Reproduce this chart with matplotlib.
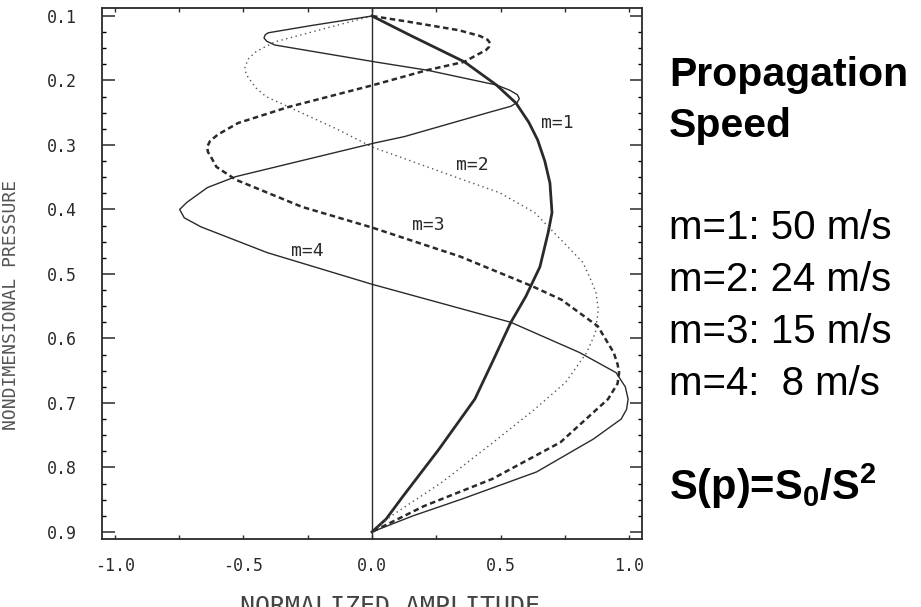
import numpy as np
import matplotlib.pyplot as plt
from matplotlib.ticker import MultipleLocator

# vertical structure of the modes (p, amplitude)
p1 = [0.100, 0.130, 0.171, 0.207, 0.235, 0.265, 0.292, 0.325, 0.359, 0.405, 0.436,
      0.489, 0.535, 0.575, 0.635, 0.694, 0.772, 0.845, 0.880, 0.900]
a1 = [0.000, 0.149, 0.359, 0.484, 0.560, 0.610, 0.644, 0.672, 0.692, 0.700, 0.685,
      0.653, 0.598, 0.540, 0.470, 0.400, 0.260, 0.120, 0.055, 0.000]

p2 = [0.100, 0.120, 0.140, 0.155, 0.166, 0.179, 0.190, 0.199, 0.212, 0.225, 0.241,
      0.276, 0.303, 0.354, 0.374, 0.405, 0.447, 0.482, 0.510, 0.529, 0.555, 0.591,
      0.622, 0.668, 0.710, 0.761, 0.823, 0.876, 0.900]
a2 = [0.000, -0.189, -0.377, -0.450, -0.480, -0.494, -0.490, -0.475, -0.450, -0.412, -0.324,
      -0.133, 0.000, 0.354, 0.496, 0.633, 0.735, 0.820, 0.852, 0.871, 0.880, 0.869,
      0.835, 0.753, 0.632, 0.472, 0.272, 0.072, 0.000]

p3 = [0.100, 0.109, 0.122, 0.131, 0.137, 0.142, 0.148, 0.153, 0.162, 0.171, 0.184,
      0.207, 0.241, 0.266, 0.284, 0.294, 0.303, 0.311, 0.318, 0.334, 0.354, 0.396,
      0.428, 0.473, 0.519, 0.540, 0.581, 0.622, 0.640, 0.653, 0.670, 0.694, 0.761,
      0.818, 0.860, 0.900]
a3 = [0.000, 0.143, 0.337, 0.420, 0.450, 0.459, 0.455, 0.443, 0.400, 0.360, 0.214,
      0.006, -0.324, -0.521, -0.600, -0.630, -0.641, -0.638, -0.627, -0.605, -0.529, -0.272,
      0.000, 0.343, 0.623, 0.737, 0.878, 0.940, 0.955, 0.961, 0.955, 0.918, 0.733,
      0.467, 0.202, 0.000]

p4 = [0.100, 0.115, 0.126, 0.129, 0.134, 0.139, 0.145, 0.171, 0.184, 0.207, 0.215,
      0.222, 0.228, 0.234, 0.240, 0.250, 0.287, 0.297, 0.349, 0.366, 0.389, 0.400,
      0.413, 0.427, 0.467, 0.516, 0.575, 0.622, 0.653, 0.675, 0.694, 0.710, 0.725,
      0.756, 0.807, 0.849, 0.875, 0.900]
a4 = [0.000, -0.239, -0.403, -0.415, -0.420, -0.410, -0.378, 0.009, 0.214, 0.484, 0.535,
      0.565, 0.573, 0.565, 0.540, 0.450, 0.126, 0.009, -0.529, -0.640, -0.720, -0.748,
      -0.730, -0.665, -0.407, 0.000, 0.540, 0.808, 0.949, 0.985, 0.996, 0.990, 0.969,
      0.861, 0.640, 0.350, 0.160, 0.000]

mode_labels = ["m=1", "m=2", "m=3", "m=4"]
label_x = [0.72, 0.39, 0.22, -0.25]
label_p = [0.266, 0.331, 0.424, 0.465]

speeds = ["m=1: 50 m/s", "m=2: 24 m/s", "m=3: 15 m/s", "m=4:  8 m/s"]

# bold sans for the sub/superscripts of the formula
plt.rcParams['mathtext.fontset'] = 'custom'
plt.rcParams['mathtext.rm'] = 'Liberation Sans:bold'
plt.rcParams['mathtext.it'] = 'Liberation Sans:bold'
plt.rcParams['mathtext.bf'] = 'Liberation Sans:bold'

ink = '#2a2a2a'
mono = 'DejaVu Sans Mono'

fig = plt.figure(figsize=(9.21, 6.07), dpi=100)
ax = fig.add_axes([102/921, 1 - 539/607, 540/921, 531/607])

ax.plot(a1, p1, color=ink, lw=2.0)                          # m=1 thick solid
ax.plot(a2, p2, color='#555555', lw=1.0, ls=(0, (1, 2.5)))  # m=2 thin dotted
ax.plot(a3, p3, color=ink, lw=1.8, ls=(0, (2.2, 1.4)))      # m=3 thick dashed
ax.plot(a4, p4, color=ink, lw=1.0)                          # m=4 thin solid
ax.axvline(0, color=ink, lw=1.0)

for t, x, p in zip(mode_labels, label_x, label_p):
    ax.text(x, p, t, family=mono, fontsize=13, color=ink, ha='center', va='center')

ax.set_xlim(-1.05, 1.05)
ax.set_ylim(0.911, 0.0876)
ax.xaxis.set_minor_locator(MultipleLocator(0.25))
ax.yaxis.set_minor_locator(MultipleLocator(0.025))
ax.set_xticks([-1.0, -0.5, 0.0, 0.5, 1.0], ["-1.0", "-0.5", "0.0", "0.5", "1.0"])
ax.set_yticks([0.1, 0.2, 0.3, 0.4, 0.5, 0.6, 0.7, 0.8, 0.9],
              ["0.1", "0.2", "0.3", "0.4", "0.5", "0.6", "0.7", "0.8", "0.9"])
ax.tick_params(axis='y', which='major', direction='in', length=9, width=1.1,
               left=True, right=True, pad=18, labelsize=12, colors=ink)
ax.tick_params(axis='y', which='minor', direction='in', length=3, width=1.0,
               left=True, right=True)
ax.tick_params(axis='x', which='both', direction='in', length=3, width=1.0,
               bottom=True, top=True, pad=13, labelsize=12, colors=ink)
for lab in ax.get_xticklabels() + ax.get_yticklabels():
    lab.set_family(mono)
for s in ax.spines.values():
    s.set_linewidth(1.3)
    s.set_color(ink)

fig.text(11/921, 1 - 305/607, "NONDIMENSIONAL PRESSURE", rotation=90, family=mono,
         fontsize=13, color='#555555', ha='center', va='center')
fig.text(390/921, 1 - 595/607, "NORMALIZED AMPLITUDE", family=mono,
         fontsize=18, color='#444444', ha='center', va='top')

# slide text on the right, one line every ~52 px
tx = 669/921
fig.text(tx, 1 - 86/607, "Propagation", family='Liberation Sans',
         weight='bold', fontsize=29.5, va='baseline')
fig.text(tx, 1 - 137/607, "Speed", family='Liberation Sans',
         weight='bold', fontsize=29.5, va='baseline')
for i, s in enumerate(speeds):
    fig.text(tx, 1 - (239 + 52*i)/607, s, family='Liberation Sans',
             fontsize=29, va='baseline')
fig.text(tx, 1 - 500/607, r"S(p)=S$_\mathrm{0}$/S$^\mathrm{2}$", family='Liberation Sans',
         weight='bold', fontsize=30, va='baseline')

fig.savefig('out.png', dpi=100)
